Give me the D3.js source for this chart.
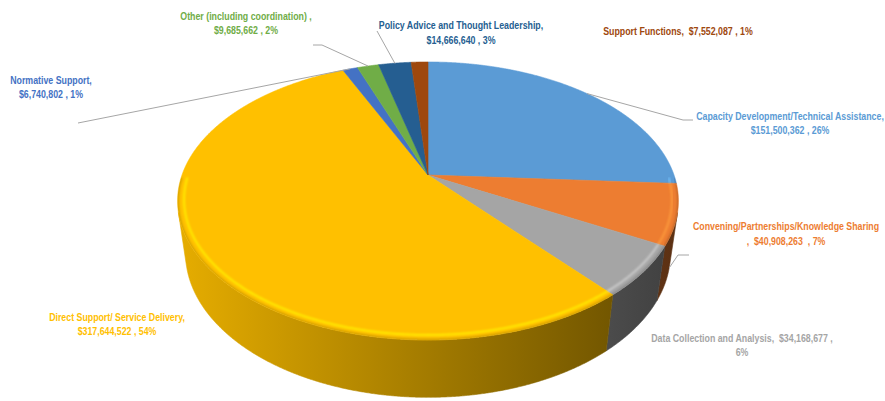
<!DOCTYPE html>
<html>
<head>
<meta charset="utf-8">
<script src="https://cdn.jsdelivr.net/npm/d3@7"></script>
<style>
  body { margin: 0; background: #ffffff; }
  svg { display: block; }
  .lbl { font-family: "Liberation Sans Narrow", "Arial Narrow", "Liberation Sans", Arial, sans-serif; font-weight: bold; font-size: 11px; }
</style>
</head>
<body>
<svg id="chart" width="885" height="401"></svg>
<script>
// Budget by function, in the order the slices run clockwise from 12 o'clock
const categories = [
  "Capacity Development/Technical Assistance",
  "Convening/Partnerships/Knowledge Sharing",
  "Data Collection and Analysis",
  "Direct Support/ Service Delivery",
  "Normative Support",
  "Other (including coordination)",
  "Policy Advice and Thought Leadership",
  "Support Functions"
];
const amounts = [151500362, 40908263, 34168677, 317644522, 6740802, 9685662, 14666640, 7552087];

const sliceColors = ["#5B9BD5", "#ED7D31", "#A5A5A5", "#FFC000", "#4472C4", "#70AD47", "#255E91", "#9E480E"];

// Label placement (screen layout) and the way each label breaks into lines
const labelLayout = [
  { x: 790, y: 120, lines: (n, a, p) => [n + ",", a + " , " + p], leader: { at: "top", pts: [[683, 120], [693, 120]] } },
  { x: 786, y: 230.5, lines: (n, a, p) => [n, ",  " + a + "  , " + p], leader: { at: "bottom", pts: [[678, 255], [689, 255]] } },
  { x: 742, y: 342, lines: (n, a, p) => [n + ",  " + a + " ,", p] },
  { x: 117, y: 321, lines: (n, a, p) => [n + ",", a + " , " + p] },
  { x: 51, y: 84, lines: (n, a, p) => [n + ",", a + " , " + p], leader: { at: "top", pts: [[78, 123]] } },
  { x: 246, y: 20, lines: (n, a, p) => [n + " ,", a + " , " + p], leader: { at: "top", pts: [[322, 45], [313, 45]] } },
  { x: 461, y: 29.5, lines: (n, a, p) => [n + ",", a + " , " + p], leader: { at: "top", pts: [[377, 31]] } },
  { x: 678, y: 35, lines: (n, a, p) => [n + ",  " + a + " , " + p] }
];
const labelSqueeze = 0.8;   // condensed label face

const svg = d3.select("#chart");
const defs = svg.append("defs");

// Perspective view of a flat disc (radius 1, thickness H)
const cx = 428, cy = 175;
const A = 246;                 // half-width in pixels at the disc centre
const alpha = 33.05 * Math.PI / 180;
const k = 0.2231;              // radius / camera distance
const H = 0.26;
const sA = Math.sin(alpha), cA = Math.cos(alpha);
const D = 1 / k, F = A * D;

function proj(theta, r, y) {
  const x = r * Math.sin(theta), z = -r * Math.cos(theta);
  const yd = z * sA - y * cA;
  const d = D - (z * cA + y * sA);
  return [cx + F * x / d, cy + F * yd / d];
}

const total = d3.sum(amounts);
const fmtAmt = d => "$" + d3.format(",")(d);
const fmtPct = d3.format(".0%");

const pie = d3.pie().sort(null).value(d => d);
const arcs = pie(amounts);

function arcPoints(a0, a1, r, y) {
  const n = Math.max(2, Math.ceil((a1 - a0) / (Math.PI / 720)));
  return d3.range(n + 1).map(i => proj(a0 + (a1 - a0) * i / n, r, y));
}

const line = d3.line();

// Outer wall: only the part that faces the viewer
const limit = Math.acos(-1 / (D * cA));
const wallFrom = limit, wallTo = 2 * Math.PI - limit;

function shade(color, f) {
  const c = d3.rgb(color);
  return d3.rgb(c.r * f, c.g * f, c.b * f).formatHex();
}

arcs.forEach((a, i) => {
  const g = defs.append("linearGradient")
    .attr("id", "wall" + i)
    .attr("gradientUnits", "userSpaceOnUse")
    .attr("x1", 177).attr("x2", 680).attr("y1", 0).attr("y2", 0);
  g.append("stop").attr("offset", 0).attr("stop-color", shade(sliceColors[i], 0.9));
  g.append("stop").attr("offset", 0.5).attr("stop-color", shade(sliceColors[i], 0.64));
  g.append("stop").attr("offset", 1).attr("stop-color", shade(sliceColors[i], 0.38));
});

const wallG = svg.append("g");
arcs.forEach((a, i) => {
  const t0 = Math.max(a.startAngle, wallFrom), t1 = Math.min(a.endAngle, wallTo);
  if (t1 <= t0) return;
  const pts = arcPoints(t0, t1, 1, 0).concat(arcPoints(t0, t1, 1, -H).reverse());
  wallG.append("path")
    .attr("d", line(pts) + "Z")
    .attr("fill", `url(#wall${i})`)
    .attr("stroke", `url(#wall${i})`)
    .attr("stroke-width", 0.6);
});

// Top face
const topG = svg.append("g");
arcs.forEach((a, i) => {
  const pts = [proj(0, 0, 0)].concat(arcPoints(a.startAngle, a.endAngle, 1, 0));
  topG.append("path")
    .attr("d", line(pts) + "Z")
    .attr("fill", sliceColors[i])
    .attr("stroke", sliceColors[i])
    .attr("stroke-width", 0.6)
    .attr("stroke-linejoin", "round");
});

// Soft bevel along the front rim of the top face
const clip = defs.append("clipPath").attr("id", "topClip");
clip.append("path").attr("d", line(arcPoints(0, 2 * Math.PI, 1, 0)) + "Z");
const blur = defs.append("filter").attr("id", "soft").attr("x", "-5%").attr("y", "-5%").attr("width", "110%").attr("height", "110%");
blur.append("feGaussianBlur").attr("stdDeviation", 1.1);

const bevelG = svg.append("g").attr("clip-path", "url(#topClip)");
arcs.forEach((a, i) => {
  const t0 = Math.max(a.startAngle, wallFrom - 0.25), t1 = Math.min(a.endAngle, wallTo + 0.25);
  if (t1 <= t0) return;
  bevelG.append("path")
    .attr("d", line(arcPoints(t0, t1, 1, 0)))
    .attr("fill", "none")
    .attr("stroke", "#000")
    .attr("stroke-opacity", 0.18)
    .attr("stroke-width", 2.5)
    .attr("filter", "url(#soft)");
  bevelG.append("path")
    .attr("d", line(arcPoints(t0, t1, 0.975, 0)))
    .attr("fill", "none")
    .attr("stroke", d3.rgb(sliceColors[i]).brighter(0.7))
    .attr("stroke-opacity", 0.9)
    .attr("stroke-width", 1.8)
    .attr("filter", "url(#soft)");
});

// Leader lines
const leaderG = svg.append("g");
arcs.forEach((a, i) => {
  const L = labelLayout[i].leader;
  if (!L) return;
  const mid = (a.startAngle + a.endAngle) / 2;
  const start = proj(mid, 1, L.at === "bottom" ? -H : 0);
  leaderG.append("path")
    .attr("d", line([start].concat(L.pts)))
    .attr("fill", "none")
    .attr("stroke", "#A6A6A6")
    .attr("stroke-width", 1);
});

// Data labels
const labelG = svg.append("g");
arcs.forEach((a, i) => {
  const L = labelLayout[i];
  const lines = L.lines(categories[i], fmtAmt(amounts[i]), fmtPct(amounts[i] / total));
  const t = labelG.append("text")
    .attr("class", "lbl")
    .attr("text-anchor", "middle")
    .attr("transform", `translate(${L.x},0) scale(${labelSqueeze},1)`)
    .attr("fill", sliceColors[i]);
  lines.forEach((s, j) => {
    t.append("tspan")
      .attr("x", 0)
      .attr("y", L.y + j * 14.5)
      .attr("xml:space", "preserve")
      .text(s);
  });
});
</script>
</body>
</html>
